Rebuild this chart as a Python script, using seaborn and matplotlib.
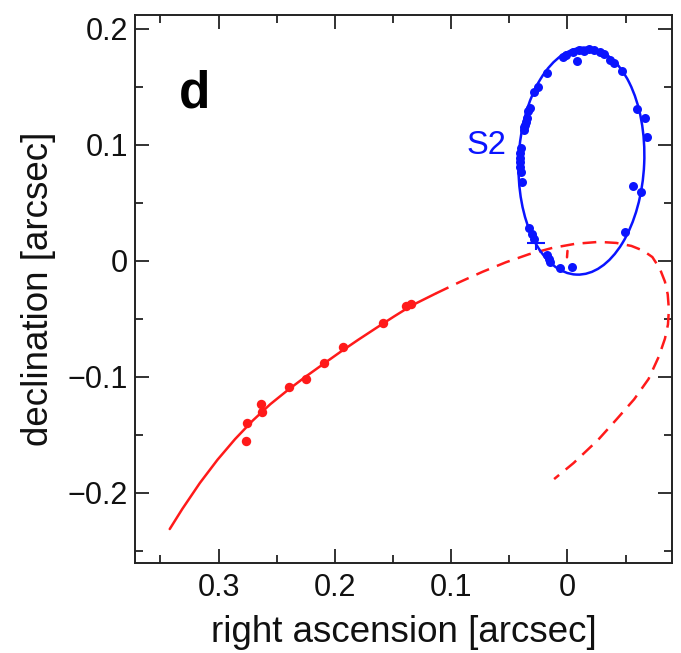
import matplotlib
matplotlib.use('Agg')
import numpy as np
import pandas as pd
import matplotlib.pyplot as plt
from matplotlib.patches import Ellipse
from matplotlib.ticker import MultipleLocator, FuncFormatter
import seaborn as sns

# S2 measured positions [arcsec]
s2_ra = [0.0341, 0.0321, 0.0284, 0.0256, 0.0176, 0.0041, 0.0012, -0.0045, -0.0082,
         -0.0102, -0.0145, -0.0188, -0.0231, -0.0282, -0.0311, -0.0368, -0.0402, -0.0465,
         -0.0597, -0.0664, -0.0682, -0.0561, -0.0630, -0.0497,
         0.0347, 0.0356, 0.0364, 0.0370, 0.0376, 0.0399, 0.0404, 0.0404, 0.0407,
         0.0404, 0.0399, 0.0393,
         0.0327, 0.0307, 0.0284, 0.0176, 0.0155, 0.0147, 0.0061, -0.0036]
s2_dec = [0.1289, 0.1317, 0.1460, 0.1498, 0.1618, 0.1755, 0.1772, 0.1804, 0.1727,
          0.1818, 0.1812, 0.1830, 0.1818, 0.1804, 0.1781, 0.1732, 0.1704, 0.1641,
          0.1309, 0.1231, 0.1072, 0.0648, 0.0590, 0.0250,
          0.1232, 0.1200, 0.1175, 0.1150, 0.1132, 0.0975, 0.0932, 0.0889, 0.0852,
          0.0812, 0.0767, 0.0681,
          0.0279, 0.0230, 0.0187, 0.0050, 0.0016, -0.0007, -0.0061, -0.0056]

# S2 orbit (ellipse on the sky)
s2_orbit_center = (-0.012, 0.086)
s2_orbit_width = 0.108
s2_orbit_height = 0.196
s2_orbit_angle = 2.5

# second star: measured positions
star_ra = [0.2767, 0.2758, 0.2639, 0.2630, 0.2397, 0.2252, 0.2097, 0.1927,
           0.1582, 0.1388, 0.1342]
star_dec = [-0.1553, -0.1401, -0.1234, -0.1306, -0.1088, -0.1019, -0.0878, -0.0741,
            -0.0540, -0.0390, -0.0376]

# second star: fitted orbit, covered part (solid) and the rest (dashed)
fit_ra = [0.3420, 0.3312, 0.3161, 0.3009, 0.2858, 0.2706, 0.2555, 0.2403,
          0.2252, 0.2100, 0.1948, 0.1797, 0.1645, 0.1494, 0.1342, 0.1130]
fit_dec = [-0.2314, -0.2141, -0.1917, -0.1716, -0.1538, -0.1378, -0.1237, -0.1114,
           -0.1000, -0.0891, -0.0783, -0.0680, -0.0580, -0.0482, -0.0387, -0.0281]
rest_ra = [0.1130, 0.0930, 0.0730, 0.0530, 0.0330, 0.0130, -0.0070, -0.0270,
           -0.0420, -0.0550, -0.0650, -0.0730, -0.0795, -0.0838, -0.0862, -0.0872,
           -0.0864, -0.0838, -0.0785, -0.0697, -0.0573, -0.0420, -0.0264, -0.0052,
           0.0115]
rest_dec = [-0.0281, -0.0185, -0.0095, -0.0013, 0.0057, 0.0111, 0.0147, 0.0163,
            0.0154, 0.0128, 0.0088, 0.0032, -0.0070, -0.0180, -0.0290, -0.0420,
            -0.0550, -0.0672, -0.0827, -0.1020, -0.1195, -0.1370, -0.1544, -0.1745,
            -0.1883]
focus_ra = [0.0, 0.0004]
focus_dec = [0.0085, 0.0030]

# cross near S2 orbit
cross_ra, cross_dec = 0.0272, 0.0155
cross_err_ra, cross_err_dec = 0.0078, 0.0065

blue = '#0a14ff'
red = '#ff1a1a'

sns.set_theme(style='ticks')
plt.rcParams['font.family'] = ['Liberation Sans', 'DejaVu Sans']
plt.rcParams['axes.unicode_minus'] = True

fig = plt.figure(figsize=(6.81, 6.53), dpi=100)
ax = fig.add_axes([0.198, 0.138, 0.789, 0.839])

sns.lineplot(x=fit_ra, y=fit_dec, sort=False, estimator=None, color=red, lw=1.8, ax=ax)
sns.lineplot(x=rest_ra, y=rest_dec, sort=False, estimator=None, color=red, lw=1.8,
             linestyle=(0, (5.5, 3.4)), ax=ax)
sns.lineplot(x=focus_ra, y=focus_dec, sort=False, estimator=None, color=red, lw=1.8, ax=ax)
sns.scatterplot(x=star_ra, y=star_dec, color=red, s=46, linewidth=0, ax=ax, zorder=3)

ax.add_patch(Ellipse(s2_orbit_center, s2_orbit_width, s2_orbit_height,
                     angle=s2_orbit_angle, fill=False, edgecolor=blue, lw=1.8, zorder=4))
sns.scatterplot(x=s2_ra, y=s2_dec, color=blue, s=42, linewidth=0, ax=ax, zorder=5)
ax.errorbar(cross_ra, cross_dec, xerr=cross_err_ra, yerr=cross_err_dec, fmt='none',
            ecolor=blue, elinewidth=1.5, capsize=0, zorder=5)

ax.set_xlim(0.372, -0.090)
ax.set_ylim(-0.2606, 0.212)


def fmt(v, pos):
    if abs(v) < 1e-9:
        return '0'
    return f'{v:.1f}'.replace('-', '\u2212')


for axis in (ax.xaxis, ax.yaxis):
    axis.set_major_locator(MultipleLocator(0.1))
    axis.set_minor_locator(MultipleLocator(0.05))
    axis.set_major_formatter(FuncFormatter(fmt))
ax.tick_params(which='both', direction='in', top=True, right=True, width=1.3,
               color='#222222', labelsize=22, labelcolor='#111111')
ax.tick_params(which='major', length=10)
ax.tick_params(which='minor', length=6)
ax.tick_params(axis='x', pad=7)
ax.tick_params(axis='y', pad=5)
for sp in ax.spines.values():
    sp.set_linewidth(1.4)
    sp.set_color('#222222')

ax.set_xlabel('right ascension [arcsec]', fontsize=26.5, labelpad=9, color='#111111')
ax.set_ylabel('declination [arcsec]', fontsize=26.5, labelpad=8, color='#111111')

ax.text(0.082, 0.832, 'd', transform=ax.transAxes, fontsize=37, fontweight='bold',
        va='baseline', ha='left', color='#000000')
ax.text(0.0527, 0.0917, 'S2', color=blue, fontsize=23.5, ha='right', va='baseline')

fig.savefig('out.png', dpi=100)
